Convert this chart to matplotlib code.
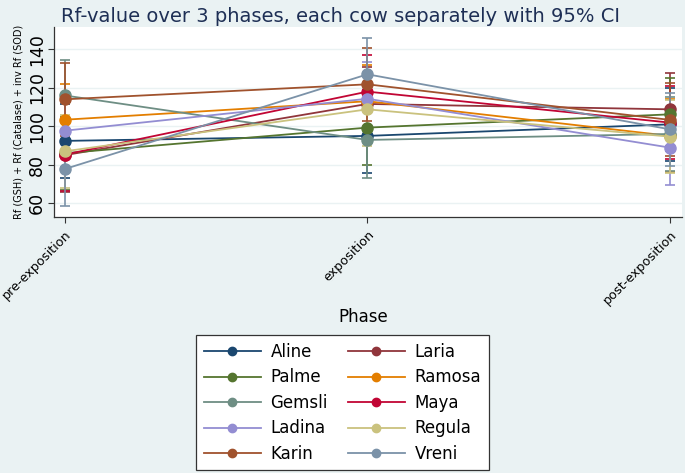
import matplotlib
matplotlib.use("Agg")
import matplotlib.pyplot as plt
import numpy as np

phases = ["pre-exposition", "exposition", "post-exposition"]
cows = ["Aline", "Laria", "Palme", "Ramosa", "Gemsli", "Maya", "Ladina", "Regula", "Karin", "Vreni"]
colors = ["#1a476f", "#90353b", "#55752f", "#e37e00", "#6e8e84",
          "#c10534", "#938dd2", "#cac27e", "#a0522d", "#7b92a8"]

means = {
    "Aline":  [92.4, 95.0, 101.0],
    "Laria":  [85.0, 111.6, 108.8],
    "Palme":  [86.0, 99.3, 106.2],
    "Ramosa": [103.4, 113.0, 95.0],
    "Gemsli": [116.0, 92.9, 96.0],
    "Maya":   [85.3, 118.0, 101.9],
    "Ladina": [97.7, 114.3, 88.9],
    "Regula": [87.0, 108.8, 94.6],
    "Karin":  [114.0, 121.8, 103.3],
    "Vreni":  [77.8, 127.0, 98.4],
}
halfwidth = {
    "Aline":  [19.3, 19.5, 19.0],
    "Laria":  [19.0, 19.0, 19.0],
    "Palme":  [19.0, 19.3, 19.0],
    "Ramosa": [18.6, 19.0, 19.0],
    "Gemsli": [18.3, 20.0, 19.0],
    "Maya":   [19.0, 19.0, 19.0],
    "Ladina": [19.0, 19.0, 19.3],
    "Regula": [19.0, 19.0, 19.0],
    "Karin":  [19.0, 19.0, 19.0],
    "Vreni":  [19.2, 18.7, 19.0],
}

bg = "#eaf2f3"
fig = plt.figure(figsize=(6.85, 4.73), dpi=100, facecolor=bg)
ax = fig.add_axes([0.0788, 0.5406, 0.917, 0.4024])
ax.set_facecolor("white")

x = np.arange(len(phases))
handles = {}
for cow, col in zip(cows, colors):
    m = np.array(means[cow])
    h = np.array(halfwidth[cow])
    ax.errorbar(x, m, yerr=h, fmt="none", ecolor=col, elinewidth=1.2,
                capsize=3.5, capthick=1.2, zorder=2)
for cow, col in zip(cows, colors):
    ln, = ax.plot(x, means[cow], color=col, lw=1.3, marker="o", ms=8,
                  mec=col, mfc=col, zorder=3, label=cow)
    handles[cow] = ln

ax.set_xlim(-0.036, 2.04)
ax.set_ylim(52.7, 151.6)
ax.set_yticks([60, 80, 100, 120, 140])
ax.set_yticklabels(["60", "80", "100", "120", "140"], rotation=90, va="center",
                   fontsize=12.5)
ax.set_xticks(x)
ax.set_xticklabels(phases, rotation=45, ha="right", rotation_mode="anchor",
                   fontsize=9.2)
ax.grid(axis="y", color=bg, lw=1.0)
ax.set_axisbelow(True)
for s in ["top", "right"]:
    ax.spines[s].set_visible(False)
for s in ["left", "bottom"]:
    ax.spines[s].set_color("#333333")
    ax.spines[s].set_linewidth(0.9)
ax.tick_params(axis="both", direction="out", length=4, color="#333333")
ax.tick_params(axis="y", pad=2)

ax.set_ylabel("Rf (GSH) + Rf (Catalase) + inv Rf (SOD)", fontsize=7, labelpad=3)
fig.text(0.53, 0.33, "Phase", ha="center", va="center", fontsize=12)
fig.text(0.497, 0.965, "Rf-value over 3 phases, each cow separately with 95% CI",
         ha="center", va="center", fontsize=14, color="#1e2f55")

# legend filled row-wise like the reference (two columns)
order = cows[0::2] + cows[1::2]
leg = fig.legend(handles=[handles[c] for c in order], ncol=2, loc="center",
                 bbox_to_anchor=(0.5, 0.148), fontsize=12, frameon=True,
                 fancybox=False, edgecolor="#333333", handlelength=3.4,
                 columnspacing=1.2, labelspacing=0.45, borderpad=0.45,
                 handletextpad=0.6, markerscale=0.75, framealpha=1)
leg.get_frame().set_linewidth(0.9)

fig.savefig("out.png", dpi=100, facecolor=bg)
